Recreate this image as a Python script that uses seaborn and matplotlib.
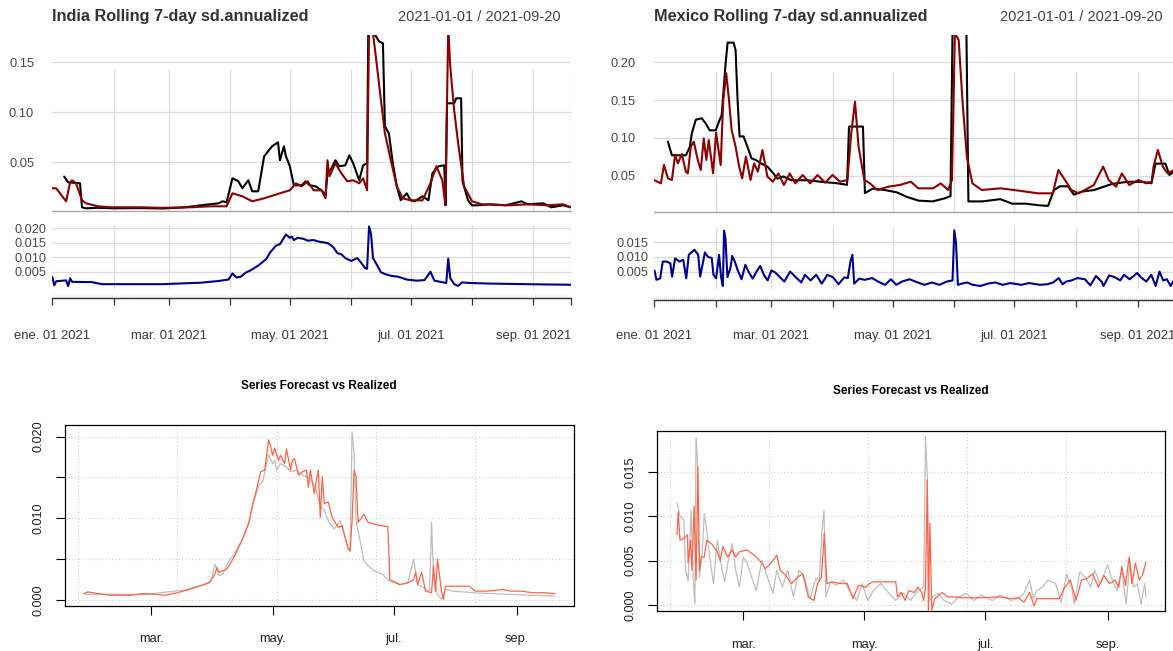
import numpy as np
import pandas as pd
import matplotlib
matplotlib.use("Agg")
import matplotlib.pyplot as plt
import matplotlib.dates as mdates
import seaborn as sns

START = pd.Timestamp("2021-01-01")
END_DAY = 262

# ---------------- India (top panel: rolling sd) ----------------
in_black_day = [6, 8, 14, 15, 17, 23, 31, 45, 56, 67, 75, 84, 86, 88, 91, 94, 96, 99, 101, 104,
                107, 111, 114, 115, 117, 118, 120, 122, 126, 128, 130, 133, 136, 138, 139, 141, 143, 145, 148, 150,
                152, 155, 157, 159, 159.6, 162, 165, 167, 168, 170, 172, 174, 176, 179, 181, 183, 187, 190, 192, 195,
                198, 198.6, 199.4, 203, 204, 206.5, 207.2, 210, 212, 215, 221, 229, 237, 240, 248, 252, 258, 262]
in_black_val = [0.0357, 0.030, 0.029, 0.005, 0.004, 0.0045, 0.004, 0.0042, 0.0038, 0.005,
                0.007, 0.009, 0.011, 0.010, 0.034, 0.031, 0.024, 0.032, 0.021, 0.021,
                0.056, 0.066, 0.070, 0.052, 0.066, 0.056, 0.046, 0.027, 0.027, 0.031,
                0.027, 0.026, 0.022, 0.017, 0.039, 0.044, 0.052, 0.046, 0.047, 0.057,
                0.049, 0.032, 0.047, 0.049, 0.181, 0.181, 0.171, 0.169, 0.086, 0.079,
                0.049, 0.026, 0.012, 0.019, 0.012, 0.011, 0.016, 0.012, 0.039, 0.046,
                0.047, 0.007, 0.109, 0.109, 0.114, 0.114, 0.031, 0.012, 0.007, 0.007,
                0.008, 0.007, 0.011, 0.008, 0.009, 0.005, 0.007, 0.005]
in_red_day = [0, 2, 5, 7, 9, 10, 12, 15, 17, 23, 30, 45, 55, 70, 80, 88, 91, 96, 101, 107,
              115, 120, 123, 126, 129, 132, 136, 138, 139, 140, 143, 146, 149, 152, 155, 157, 159, 160, 162, 164,
              166, 168, 171, 174, 177, 181, 187, 191, 194, 197, 198.5, 200, 201, 203, 205, 208, 212, 217, 231, 240,
              250, 258, 262]
in_red_val = [0.024, 0.024, 0.016, 0.011, 0.030, 0.032, 0.029, 0.012, 0.009, 0.006,
              0.005, 0.005, 0.0045, 0.005, 0.006, 0.006, 0.019, 0.016, 0.011, 0.014,
              0.019, 0.022, 0.029, 0.026, 0.031, 0.022, 0.022, 0.014, 0.052, 0.036,
              0.049, 0.039, 0.031, 0.032, 0.029, 0.034, 0.022, 0.185, 0.179, 0.146,
              0.112, 0.079, 0.052, 0.026, 0.014, 0.012, 0.012, 0.029, 0.046, 0.032,
              0.008, 0.185, 0.146, 0.102, 0.069, 0.026, 0.011, 0.008, 0.007, 0.008,
              0.007, 0.008, 0.005]
# realized (navy in top panel, grey in bottom panel)
in_real_day = [0, 1, 2, 7, 8, 9, 10, 20, 25, 40, 56, 67, 75, 84, 89, 91, 93, 95, 98, 100,
               104, 108, 110, 113, 115, 117, 118, 120, 121, 122, 124, 127, 129, 132, 135, 139, 141, 142, 144, 146,
               148, 151, 154, 156, 158, 159, 160, 161, 162, 164, 166, 168, 171, 175, 179, 184, 188, 191, 193, 196,
               199, 200, 201, 203, 205, 207, 211, 221, 230, 240, 249, 262]
in_real_val = [0.0032, 0.0003, 0.0017, 0.0020, 0.0000, 0.0027, 0.0015, 0.0014, 0.0007, 0.0007,
               0.0007, 0.0010, 0.0012, 0.0018, 0.0023, 0.0044, 0.0030, 0.0032, 0.0048, 0.0054,
               0.0071, 0.0093, 0.0116, 0.0140, 0.0145, 0.0167, 0.0178, 0.0167, 0.0171, 0.0159,
               0.0167, 0.0163, 0.0157, 0.0159, 0.0153, 0.0149, 0.0140, 0.0134, 0.0114, 0.0110,
               0.0097, 0.0087, 0.0097, 0.0081, 0.0062, 0.0060, 0.0206, 0.0180, 0.0097, 0.0073,
               0.0048, 0.0042, 0.0036, 0.0032, 0.0023, 0.0019, 0.0021, 0.0050, 0.0019, 0.0015,
               0.0011, 0.0095, 0.0028, 0.0007, 0.0001, 0.0013, 0.0011, 0.0009, 0.0008, 0.0007,
               0.0006, 0.0005]
in_fc_day = [25, 27, 32, 38, 49, 55, 66, 72, 78, 83, 88, 91, 92, 93, 95, 97, 100, 102, 105, 108,
             110, 112, 114, 116, 117, 118, 119, 120, 121, 123, 124, 126, 127, 129, 130, 131, 133, 135, 137, 138,
             139, 141, 142, 143, 144, 145, 146, 148, 150, 153, 155, 156, 158, 159, 160, 161, 162, 163, 166, 168,
             171, 175, 178, 179, 181, 184, 188, 191, 192, 193, 195, 197, 200, 201, 202, 203, 205, 206, 207, 211,
             219, 222, 228, 236, 240, 245, 251, 257, 262]
in_fc_val = [0.0008, 0.0010, 0.0008, 0.0006, 0.0006, 0.0008, 0.0006, 0.0009, 0.0013, 0.0017,
             0.0021, 0.0032, 0.0040, 0.0034, 0.0036, 0.0038, 0.0050, 0.0060, 0.0075, 0.0095,
             0.0118, 0.0136, 0.0157, 0.0159, 0.0177, 0.0196, 0.0188, 0.0177, 0.0186, 0.0171,
             0.0177, 0.0167, 0.0185, 0.0159, 0.0171, 0.0173, 0.0153, 0.0157, 0.0159, 0.0138,
             0.0159, 0.0130, 0.0147, 0.0159, 0.0101, 0.0151, 0.0118, 0.0120, 0.0101, 0.0089,
             0.0091, 0.0081, 0.0064, 0.0060, 0.0097, 0.0159, 0.0151, 0.0095, 0.0105, 0.0095,
             0.0093, 0.0091, 0.0090, 0.0025, 0.0023, 0.0019, 0.0021, 0.0025, 0.0034, 0.0019,
             0.0034, 0.0011, 0.0009, 0.0042, 0.0011, 0.0050, 0.0011, 0.0001, 0.0017, 0.0017,
             0.0017, 0.0011, 0.0011, 0.0013, 0.0011, 0.0011, 0.0009, 0.0009, 0.0008]

# ---------------- Mexico ----------------
mx_black_day = [7, 9, 11, 16, 18, 19, 21, 24, 26, 28, 31, 33, 34, 36, 37, 40, 41, 42, 43, 45,
                47, 49, 51, 54, 57, 60, 62, 65, 69, 77, 84, 92, 97, 98, 105, 106, 110, 116, 122, 127,
                133, 140, 146, 149, 150, 157, 158, 165, 174, 180, 187, 193, 198, 201, 204, 208, 211, 215, 221, 230,
                238, 245, 250, 252, 257, 259, 261]
mx_black_val = [0.095, 0.077, 0.077, 0.077, 0.088, 0.106, 0.124, 0.126, 0.119, 0.110,
                0.110, 0.124, 0.130, 0.199, 0.226, 0.226, 0.216, 0.150, 0.102, 0.102,
                0.088, 0.073, 0.071, 0.066, 0.062, 0.053, 0.046, 0.049, 0.044, 0.044,
                0.042, 0.040, 0.038, 0.115, 0.115, 0.027, 0.033, 0.031, 0.028, 0.022,
                0.017, 0.016, 0.020, 0.023, 0.238, 0.238, 0.016, 0.016, 0.019, 0.013,
                0.013, 0.011, 0.010, 0.031, 0.036, 0.036, 0.025, 0.029, 0.031, 0.039,
                0.042, 0.042, 0.040, 0.066, 0.066, 0.051, 0.055]
mx_red_day = [0, 3.5, 5, 7, 9, 10.6, 12, 14, 16, 17, 18.5, 20, 22, 23.5, 25, 26.3, 27.5, 29.7, 31.2, 33.5,
              34.8, 36.3, 37.6, 39, 41, 42.8, 44.3, 46.2, 48.5, 50.3, 52.2, 54.5, 57, 59.7, 62.5, 65.3, 68.2, 71, 74.7, 78.5,
              82.2, 86, 89.7, 93.5, 97.2, 99.1, 101, 102.8, 105.7, 108.5, 112.2, 117.8, 123.5, 129.1, 132.8, 140.3, 144.1, 147.8, 149.7, 151.2,
              153.1, 155, 157.2, 160, 164.7, 174.1, 183.5, 192.9, 200.4, 203.2, 206, 209.7, 213.5, 221, 225.7, 228.5, 232.2, 235.1, 238.8, 243.5,
              247.3, 250.1, 251, 253.2, 255.7, 258.1, 261.3]
mx_red_val = [0.0443, 0.0399, 0.0642, 0.0465, 0.0443, 0.0774, 0.0664, 0.0787, 0.0553, 0.0531,
              0.0884, 0.0950, 0.0708, 0.0575, 0.0994, 0.0708, 0.0972, 0.0531, 0.1069, 0.0642,
              0.1501, 0.1854, 0.1523, 0.1104, 0.0884, 0.0620, 0.0465, 0.0752, 0.0443, 0.0664,
              0.0553, 0.0840, 0.0487, 0.0421, 0.0531, 0.0377, 0.0531, 0.0399, 0.0509, 0.0399,
              0.0509, 0.0408, 0.0509, 0.0421, 0.0443, 0.1060, 0.1479, 0.0884, 0.0443, 0.0399,
              0.0311, 0.0355, 0.0377, 0.0421, 0.0333, 0.0333, 0.0399, 0.0311, 0.0443, 0.2383,
              0.2295, 0.1501, 0.0752, 0.0399, 0.0311, 0.0333, 0.0302, 0.0267, 0.0267, 0.0575,
              0.0465, 0.0311, 0.0267, 0.0377, 0.0620, 0.0443, 0.0355, 0.0531, 0.0377, 0.0443,
              0.0399, 0.0421, 0.0620, 0.0840, 0.0620, 0.0531, 0.0575]
mx_real_day = [0.3, 1.2, 3.1, 4.4, 6.3, 8.2, 9.1, 10.6, 12.8, 14.7, 16.2, 17.5, 20.3, 22.2, 23.2,
               25.6, 27.1, 29.0, 29.9, 31.2, 32.7, 33.7, 34.6, 35.2, 35.9, 36.9, 38.4, 39.3, 40.6, 42.1,
               44.0, 45.9, 47.7, 49.6, 51.5, 53.4, 55.2, 57.1, 59.0, 60.9, 62.7, 65.5, 68.4, 71.2, 74.0,
               75.9, 78.7, 81.5, 84.3, 87.1, 89.9, 92.7, 95.6, 97.4, 98.7, 99.7, 100.6, 103.1, 105.9, 109.6,
               113.4, 116.2, 119.0, 121.8, 124.6, 128.4, 132.1, 135.9, 139.6, 143.4, 147.1, 150.0, 150.9, 151.8, 152.7,
               154.6, 157.4, 160.2, 164.0, 167.7, 171.5, 175.2, 179.0, 184.6, 188.4, 194.0, 197.7, 200.6, 203.4, 205.3,
               207.1, 209.9, 212.7, 216.5, 219.3, 222.1, 224.9, 225.9, 228.7, 231.5, 234.3, 236.2, 239.0, 242.8, 244.6,
               247.4, 249.9, 252.1, 254.0, 255.9, 257.7, 259.6, 261.5, 262.0]
mx_real_val = [0.0053, 0.0022, 0.0027, 0.0084, 0.0084, 0.0078, 0.0033, 0.0095, 0.0084, 0.0090, 0.0027, 0.0107, 0.0124, 0.0107, 0.0033,
               0.0115, 0.0100, 0.0096, 0.0039, 0.0027, 0.0107, 0.0031, 0.0001, 0.0189, 0.0164, 0.0031, 0.0062, 0.0103, 0.0084, 0.0054,
               0.0024, 0.0073, 0.0047, 0.0026, 0.0050, 0.0069, 0.0039, 0.0020, 0.0054, 0.0047, 0.0035, 0.0016, 0.0050, 0.0031, 0.0013,
               0.0039, 0.0020, 0.0039, 0.0009, 0.0039, 0.0031, 0.0007, 0.0030, 0.0028, 0.0084, 0.0107, 0.0009, 0.0026, 0.0022, 0.0028,
               0.0013, 0.0005, 0.0024, 0.0005, 0.0016, 0.0024, 0.0014, 0.0005, 0.0013, 0.0005, 0.0016, 0.0020, 0.0190, 0.0145, 0.0005,
               0.0009, 0.0013, 0.0005, 0.0001, 0.0009, 0.0013, 0.0005, 0.0011, 0.0005, 0.0011, 0.0005, 0.0007, 0.0013, 0.0028, 0.0007,
               0.0016, 0.0020, 0.0028, 0.0024, 0.0003, 0.0035, 0.0016, 0.0001, 0.0037, 0.0031, 0.0020, 0.0039, 0.0024, 0.0045, 0.0031,
               0.0016, 0.0039, 0.0001, 0.0050, 0.0020, 0.0024, 0.0001, 0.0024, 0.0009]
mx_fc_day = [25.6, 26.2, 27.1, 29.0, 30.9, 31.2, 32.4, 33.1, 34.2, 35.2, 36.1, 36.9, 37.8, 39.3, 40.6, 43.0, 45.9, 47.4, 48.7, 51.1,
             53.4, 55.2, 57.1, 60.9, 64.6, 67.4, 70.2, 73.0, 75.9, 77.7, 80.5, 83.4, 86.2, 89.0, 91.8, 94.6, 96.5, 98.4, 99.9, 101.2,
             104.0, 107.7, 111.5, 114.3, 117.1, 120.9, 122.7, 124.6, 130.2, 135.9, 136.8, 138.7, 140.6, 142.4, 145.2, 147.1, 149.0, 150.0, 150.9, 151.8,
             152.4, 153.1, 154.1, 155.6, 159.3, 162.1, 164.9, 169.6, 179.0, 188.4, 194.0, 197.7, 200.6, 203.4, 205.6, 207.1, 212.7, 218.4, 221.2, 224.0,
             226.8, 229.6, 232.4, 235.2, 238.1, 240.9, 243.7, 246.5, 248.4, 249.9, 251.8, 253.6, 255.0, 256.8, 258.7, 260.6, 262.0]
mx_fc_val = [0.0079, 0.0105, 0.0073, 0.0075, 0.0079, 0.0047, 0.0073, 0.0039, 0.0111, 0.0028, 0.0156, 0.0039, 0.0054, 0.0054, 0.0073, 0.0069, 0.0060, 0.0050, 0.0066, 0.0054,
             0.0062, 0.0054, 0.0060, 0.0062, 0.0056, 0.0050, 0.0041, 0.0047, 0.0056, 0.0039, 0.0033, 0.0024, 0.0031, 0.0035, 0.0009, 0.0005, 0.0024, 0.0031, 0.0081, 0.0024,
             0.0026, 0.0024, 0.0024, 0.0007, 0.0022, 0.0020, 0.0024, 0.0026, 0.0026, 0.0026, 0.0009, 0.0014, 0.0005, 0.0016, 0.0014, 0.0020, 0.0014, 0.0005, 0.0020, 0.0141,
             -0.0010, 0.0092, -0.0006, 0.0007, 0.0014, 0.0009, 0.0009, 0.0008, 0.0008, 0.0009, 0.0007, 0.0008, 0.0003, 0.0014, -0.0001, 0.0007, 0.0007, 0.0007, 0.0020, 0.0028,
             0.0005, 0.0028, 0.0030, 0.0035, 0.0020, 0.0033, 0.0024, 0.0028, 0.0020, 0.0043, 0.0022, 0.0054, 0.0024, 0.0047, 0.0028, 0.0035, 0.0048]

# ---------------- labels / ticks ----------------
TOP_XLABELS = ["ene. 01 2021", "", "mar. 01 2021", "", "may. 01 2021", "", "jul. 01 2021", "", "sep. 01 2021", ""]
BOT_XLABELS = ["mar.", "may.", "jul.", "sep."]
BOT_XTICK_DATES = ["2021-03-01", "2021-05-01", "2021-07-01", "2021-09-01"]
BOT_GRID_EPOCH_DAYS = [18650, 18700, 18750, 18800, 18850]
DATE_RANGE = "2021-01-01 / 2021-09-20"
FC_START_DAY = 25

# ---------------- drawing ----------------
sns.set_style("white")
plt.rcParams["font.family"] = ["Liberation Sans", "DejaVu Sans"]
plt.rcParams["axes.unicode_minus"] = False

W, H = 1173, 651
fig = plt.figure(figsize=(W / 100, H / 100), dpi=100)
fig.patch.set_facecolor("white")


def box(x0, y0, x1, y1):
    return fig.add_axes([x0 / W, 1 - y1 / H, (x1 - x0) / W, (y1 - y0) / H])


def frame(days, vals, lo=None):
    d = np.asarray(days, float)
    v = np.asarray(vals, float)
    if lo is not None:
        m = d >= lo
        d, v = d[m], v[m]
    return pd.DataFrame({"date": START + pd.to_timedelta(d, unit="D"), "value": v})


def day(n):
    return START + pd.Timedelta(days=n)


MONTHS = list(pd.date_range("2021-01-01", "2021-09-01", freq="MS"))
END = day(END_DAY)
GRID_C = "#dcdcdc"


def draw_lines(ax, items, lw):
    for df, col in items:
        sns.lineplot(data=df, x="date", y="value", color=col, lw=lw, ax=ax,
                     legend=False, estimator=None, sort=False)
    ax.set_xlabel("")
    ax.set_ylabel("")


def xts_chart(x0, x1, title, title_right, main_top, main_bot, vgrid_top, main_ylim, main_ticks,
              main_items, low_top, low_bot, low_ylim, low_ticks, low_item, axis_y, label_pad):
    # main panel
    ax = box(x0, main_top, x1, main_bot)
    for t in main_ticks:
        ax.axhline(t, color=GRID_C, lw=0.9, zorder=0)
    frac = (main_bot - vgrid_top) / (main_bot - main_top)
    for d in MONTHS[1:] + [END]:
        ax.axvline(d, ymin=0, ymax=frac, color=GRID_C, lw=0.9, zorder=0)
    draw_lines(ax, main_items, 1.5)
    ax.set_xlim(START, END)
    ax.set_ylim(*main_ylim)
    ax.set_xticks([])
    ax.set_yticks(main_ticks)
    ax.set_yticklabels([f"{t:.2f}" for t in main_ticks])
    ax.tick_params(axis="y", length=0, pad=13, labelsize=9.3, labelcolor="#4a4a4a")
    for s in ["top", "left", "right"]:
        ax.spines[s].set_visible(False)
    ax.spines["bottom"].set_color("#a8a8a8")
    ax.spines["bottom"].set_linewidth(1.0)
    ax.patch.set_alpha(0)

    # lower panel
    al = box(x0, low_top, x1, low_bot)
    for t in low_ticks:
        al.axhline(t, color=GRID_C, lw=0.9, zorder=0)
    for d in MONTHS[1:] + [END]:
        al.axvline(d, color=GRID_C, lw=0.9, zorder=0)
    draw_lines(al, [low_item], 1.5)
    al.set_xlim(START, END)
    al.set_ylim(*low_ylim)
    al.set_xticks([])
    al.set_yticks(low_ticks)
    al.set_yticklabels([f"{t:.3f}" for t in low_ticks])
    al.tick_params(axis="y", length=0, pad=4, labelsize=9.2, labelcolor="#4a4a4a")
    for s in al.spines.values():
        s.set_visible(False)
    al.patch.set_alpha(0)

    # x axis strip
    axs = box(x0, axis_y - 5, x1, axis_y)
    axs.set_xlim(mdates.date2num(START), mdates.date2num(END))
    axs.set_ylim(0, 1)
    axs.set_yticks([])
    for s in ["top", "left", "right"]:
        axs.spines[s].set_visible(False)
    axs.spines["bottom"].set_color("#333333")
    axs.spines["bottom"].set_linewidth(1.0)
    axs.set_xticks(mdates.date2num(MONTHS + [END]))
    axs.set_xticklabels(TOP_XLABELS)
    axs.set_xticks(mdates.date2num(list(pd.date_range(START, END, freq="D"))), minor=True)
    axs.tick_params(axis="x", which="major", bottom=True, direction="out", length=5, width=0.9,
                    color="#333333", pad=label_pad, labelsize=9.4, labelcolor="#3a3a3a")
    axs.tick_params(axis="x", which="minor", bottom=True, direction="in", length=3, width=0.5,
                    color="#e4e4e4")
    axs.patch.set_alpha(0)

    fig.text(x0 / W, 1 - 17 / H, title, ha="left", va="center", fontsize=11.7,
             fontweight="bold", color="#333333")
    fig.text(title_right / W, 1 - 17 / H, DATE_RANGE, ha="right", va="center",
             fontsize=10.5, color="#444444")


def r_chart(x0, y0, x1, y1, real_df, fc_df, ylim, yticks, ylabels, title_y, xpad, ypad):
    ax = box(x0, y0, x1, y1)
    for e in BOT_GRID_EPOCH_DAYS:
        ax.axvline(pd.to_datetime(e, unit="D"), color="#d3d3d3", lw=0.8, ls=(0, (1, 2)), zorder=0)
    for t in yticks:
        ax.axhline(t, color="#d3d3d3", lw=0.8, ls=(0, (1, 2)), zorder=0)
    draw_lines(ax, [(real_df, "#bebebe"), (fc_df, "#ff6347")], 0.9)
    ax.set_xlim(day(15.5), day(271.5))
    ax.set_ylim(*ylim)
    ax.set_xticks(pd.to_datetime(BOT_XTICK_DATES))
    ax.set_xticklabels(BOT_XLABELS)
    ax.set_yticks(yticks)
    ax.set_yticklabels(ylabels, rotation=90, va="center")
    ax.tick_params(axis="x", bottom=True, direction="out", length=6.5, width=0.8, color="black",
                   pad=xpad, labelsize=9.3, labelcolor="#222222")
    ax.tick_params(axis="y", left=True, direction="out", length=6.5, width=0.8, color="black",
                   pad=ypad, labelsize=9.1, labelcolor="#222222")
    for s in ax.spines.values():
        s.set_visible(True)
        s.set_color("black")
        s.set_linewidth(0.9)
    fig.text((x0 + x1) / 2 / W, 1 - title_y / H, "Series Forecast vs Realized",
             ha="center", va="center", fontsize=8.5, fontweight="bold", color="black")


# India top
xts_chart(52.3, 571.0, "India Rolling 7-day sd.annualized", 560.4,
          35, 211, 70, (0.0013, 0.1773), [0.05, 0.10, 0.15],
          [(frame(in_black_day, in_black_val), "black"), (frame(in_red_day, in_red_val), "#8b0000")],
          225, 289, (-0.00097, 0.0211), [0.005, 0.010, 0.015, 0.020],
          (frame(in_real_day, in_real_val), "#00008b"), 298.3, 17.5)

# Mexico top
xts_chart(654.0, 654.0 + 262 * 1.99, "Mexico Rolling 7-day sd.annualized", 1162.8,
          35, 212.3, 72, (0.0016, 0.2361), [0.05, 0.10, 0.15, 0.20],
          [(frame(mx_black_day, mx_black_val), "black"), (frame(mx_red_day, mx_red_val), "#8b0000")],
          228, 289, (-0.00092, 0.0198), [0.005, 0.010, 0.015],
          (frame(mx_real_day, mx_real_val), "#00008b"), 300.0, 16.5)

# India bottom
r_chart(65, 425, 573.6, 606,
        frame(in_real_day, in_real_val, FC_START_DAY), frame(in_fc_day, in_fc_val),
        (-0.00072, 0.02142), [0.0, 0.005, 0.010, 0.015, 0.020],
        ["0.000", "", "0.010", "", "0.020"], 386, 13.0, 8.0)

# Mexico bottom
r_chart(657, 430.7, 1164.6, 610.7,
        frame(mx_real_day, mx_real_val, FC_START_DAY), frame(mx_fc_day, mx_fc_val),
        (-0.00066, 0.01966), [0.0, 0.005, 0.010, 0.015],
        ["0.000", "0.005", "0.010", "0.015"], 390.7, 14.0, 8.4)

fig.savefig("out.png", dpi=100, facecolor="white")
